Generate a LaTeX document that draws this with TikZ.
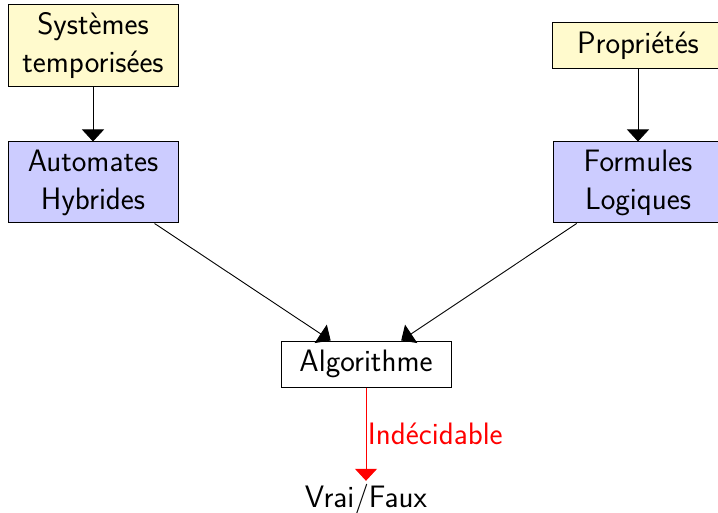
\documentclass[tikz,border=0pt]{standalone}
\usetikzlibrary{arrows.meta}
\definecolor{creamfill}{RGB}{255,250,205}
\definecolor{lavenderfill}{RGB}{204,204,255}
\begin{document}
\begin{tikzpicture}[x=1pt,y=-1pt,
  every node/.style={font=\fontsize{31}{38}\selectfont\sffamily},
  srcbox/.style={draw=black, line width=1pt, fill=creamfill, align=center, minimum width=170pt, inner sep=0pt},
  modelbox/.style={draw=black, line width=1pt, fill=lavenderfill, align=center, minimum width=170pt, minimum height=81pt, inner sep=0pt},
  algobox/.style={draw=black, line width=1pt, fill=white, minimum width=170pt, minimum height=46pt, inner sep=0pt},
  flow/.style={line width=0.9pt, -{Triangle[width=22pt,length=12pt]}},
  undec/.style={flow, draw=red}
]
\useasboundingbox (0,0) rectangle (718,513);

% input boxes
\node[srcbox, minimum height=82pt] (sys) at (93,46) {Systèmes\\temporisées};
\node[srcbox, minimum height=46pt, minimum width=172pt] (prop) at (638,46) {Propriétés};

% formal models
\node[modelbox] (auto) at (93,182.5) {Automates\\Hybrides};
\node[modelbox] (form) at (638,182.5) {Formules\\Logiques};

% decision procedure and its output
\node[algobox] (algo) at (366,364) {Algorithme};
\node (res) at (366,499.8) {Vrai/Faux};

\draw[flow] (sys) -- (auto);
\draw[flow] (prop) -- (form);
\draw[flow] (auto) -- (algo);
\draw[flow] (form) -- (algo);
\draw[undec] (algo) -- node[right, text=red, inner sep=1.5pt] {Indécidable} (res);
\end{tikzpicture}
\end{document}
